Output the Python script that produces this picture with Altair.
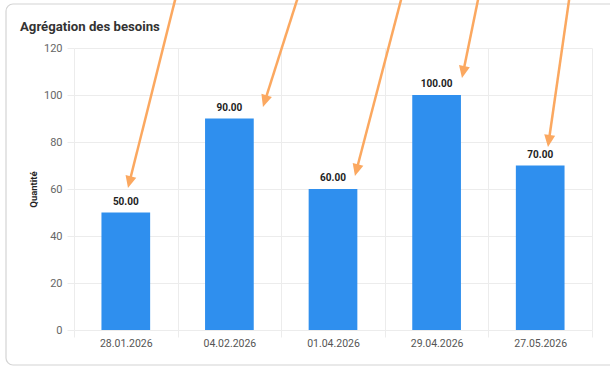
import math
import altair as alt
import pandas as pd

# ---- data ----
title_text = "Agrégation des besoins"
y_title = "Quantité"
dates = ["28.01.2026", "04.02.2026", "01.04.2026", "29.04.2026", "27.05.2026"]
quantities = [50, 90, 60, 100, 70]
y_ticks = [0, 20, 40, 60, 80, 100, 120]

# annotation arrows (x in band units 0..5, y in quantity units)
arrow_x_start = [0.985, 2.165, 3.166, 3.907, 4.784]
arrow_y_start = [142.1, 142.1, 142.1, 142.1, 142.1]
arrow_x_tip = [0.521, 1.824, 2.712, 3.745, 4.575]
arrow_y_tip = [60.4, 94.9, 65.5, 107.2, 77.9]

W, H = 518, 282
PX_X = W / len(dates)
PX_Y = H / 120.0
FONT = "Roboto"
BLUE = "#2f8fee"
ORANGE = "#fba860"
GRID = "#ececec"

df = pd.DataFrame({"date": dates, "qty": quantities})

rows = []
for xs, ys, xt, yt in zip(arrow_x_start, arrow_y_start, arrow_x_tip, arrow_y_tip):
    dxp = (xt - xs) * PX_X
    dyp = -(yt - ys) * PX_Y
    L = math.hypot(dxp, dyp)
    back = 7.0
    xe = xt - (dxp / L) * back / PX_X
    ye = yt + (dyp / L) * back / PX_Y
    ang = math.degrees(math.atan2(-dxp, dyp)) % 360
    rows.append({"xs": xs, "ys": ys, "xe": xe, "ye": ye, "xt": xt, "yt": yt, "ang": ang})
arrows = pd.DataFrame(rows)

one = pd.DataFrame({"k": [0]})

card = alt.Chart(one).mark_rect(
    fillOpacity=0, stroke="#d4d4d4", strokeWidth=1.2, cornerRadius=7
).encode(
    x=alt.value(-68), x2=alt.value(W + 40), y=alt.value(-44), y2=alt.value(H + 35)
)

title = alt.Chart(one).mark_text(
    align="left", baseline="alphabetic", fontSize=13.2, fontWeight="bold",
    font=FONT, color="#333333"
).encode(x=alt.value(-54), y=alt.value(-17), text=alt.value(title_text))

xenc = alt.X(
    "date:N", sort=dates,
    scale=alt.Scale(paddingInner=0, paddingOuter=0),
    axis=alt.Axis(
        orient="bottom",
        title=None, labelAngle=0, tickBand="extent", grid=True, gridColor=GRID,
        domain=False, tickColor=GRID, tickSize=7, labelPadding=1,
        labelColor="#555555", labelFontSize=10.5, labelFont=FONT,
    ),
)
yenc = alt.Y(
    "qty:Q",
    scale=alt.Scale(domain=[0, 120], nice=False),
    axis=alt.Axis(
        orient="left",
        values=y_ticks, title=y_title, titleFontSize=9.5, titleFontWeight="bold",
        titleFont=FONT, titleColor="#222222", titlePadding=5,
        domain=False, tickColor=GRID, tickSize=7, labelPadding=5,
        labelColor="#666666", labelFontSize=11, labelFont=FONT, gridColor=GRID,
    ),
)

bars = alt.Chart(df).mark_bar(width=alt.RelativeBandSize(0.47), color=BLUE).encode(
    x=xenc, y=yenc
)
labels = alt.Chart(df).mark_text(
    dy=-6, fontSize=10, fontWeight="bold", font=FONT, color="#222222", baseline="bottom"
).encode(
    x=alt.X("date:N", sort=dates), y="qty:Q", text=alt.Text("qty:Q", format=".2f")
)
main = alt.layer(bars, labels)

xq = alt.Scale(domain=[0, len(dates)], nice=False, zero=False)
yq = alt.Scale(domain=[0, 120], nice=False)

lines = alt.Chart(arrows).mark_rule(
    color=ORANGE, strokeWidth=2.5, clip=False
).encode(
    x=alt.X("xs:Q", scale=xq, axis=None), x2="xe:Q",
    y=alt.Y("ys:Q", scale=yq, axis=None), y2="ye:Q",
)
heads = alt.Chart(arrows).mark_point(
    shape="M0,0L-1,-2.2L1,-2.2Z", filled=True, fill=ORANGE, color=ORANGE,
    opacity=1, size=121, clip=False, strokeWidth=0
).encode(
    x=alt.X("xt:Q", scale=xq, axis=None),
    y=alt.Y("yt:Q", scale=yq, axis=None),
    angle=alt.Angle("ang:Q", scale=None),
)

chart = alt.layer(main, card, title, lines, heads).resolve_scale(
    x="independent", y="independent"
).properties(
    width=W, height=H,
    autosize=alt.AutoSizeParams(type="none"),
    padding={"left": 74, "top": 48, "right": 18, "bottom": 40},
    background="white",
).configure_view(strokeWidth=0)

chart.save("out.html", embed_options={"renderer": "svg", "actions": False})
